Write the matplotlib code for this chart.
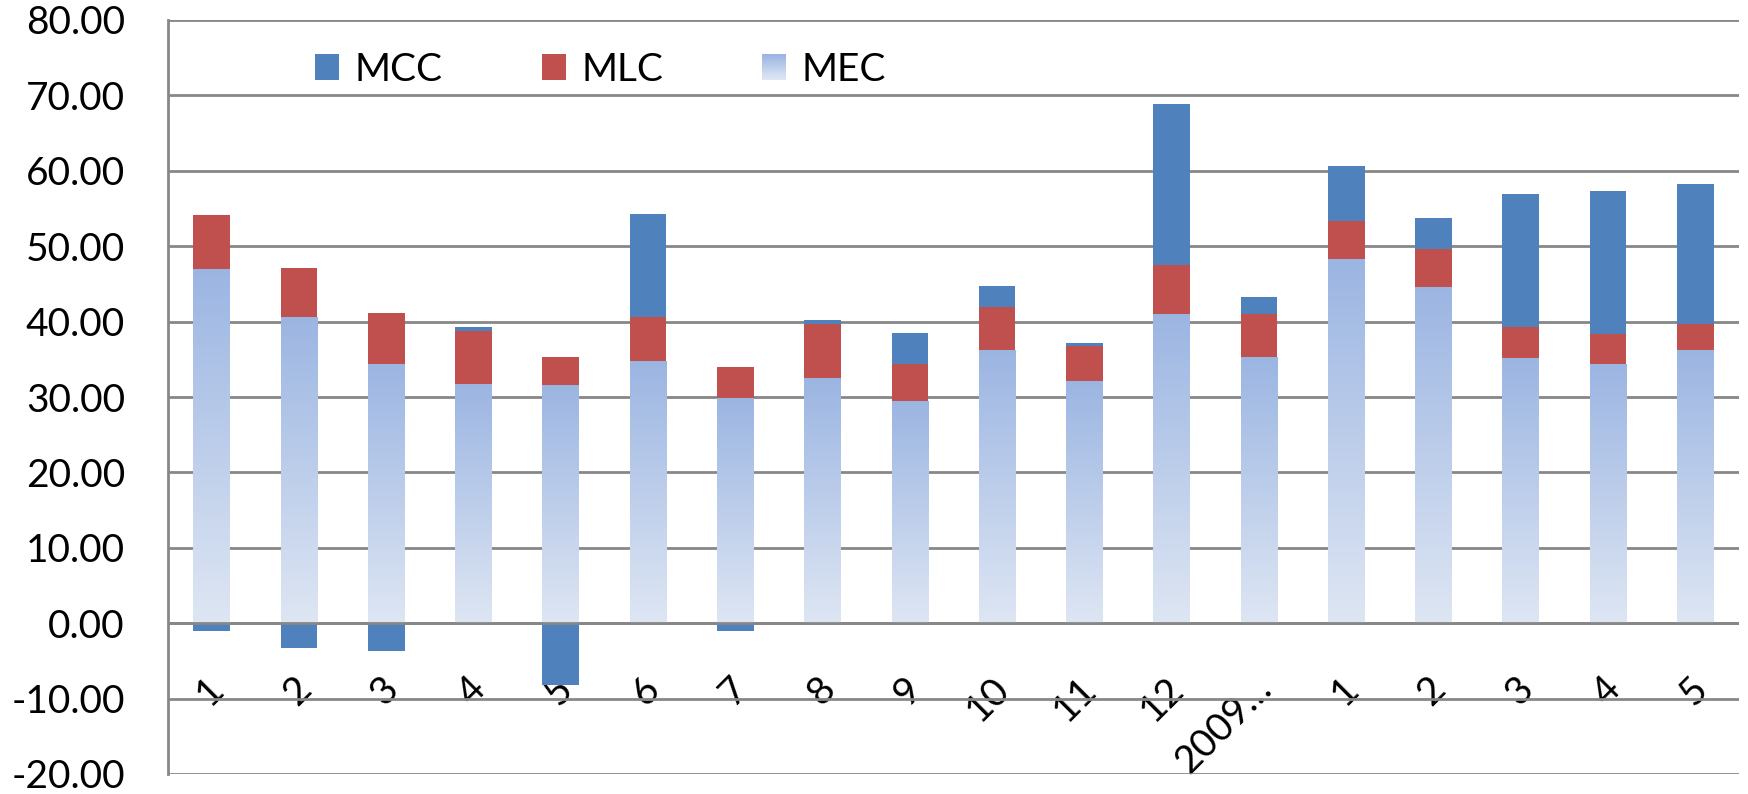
import numpy as np
import matplotlib
matplotlib.use("Agg")
import matplotlib.pyplot as plt
from matplotlib.patches import Rectangle, Patch
from matplotlib.legend_handler import HandlerBase
import matplotlib.transforms as mtransforms

# ---- data ----
categories = ['1', '2', '3', '4', '5', '6', '7', '8', '9', '10', '11', '12',
              '2009…', '1', '2', '3', '4', '5']
MEC = [47.0, 40.6, 34.4, 31.7, 31.6, 34.8, 29.9, 32.5, 29.5, 36.2, 32.1, 41.0,
       35.3, 48.3, 44.6, 35.2, 34.4, 36.2]
MLC = [7.2, 6.5, 6.8, 7.1, 3.7, 5.8, 4.1, 7.2, 4.9, 5.8, 4.6, 6.5,
       5.7, 5.0, 5.0, 4.1, 4.0, 3.5]
MCC = [-1.0, -3.3, -3.7, 0.5, -8.2, 13.7, -1.0, 0.5, 4.1, 2.7, 0.5, 21.4,
       2.3, 7.4, 4.1, 17.6, 18.9, 18.5]
yticks = [-20, -10, 0, 10, 20, 30, 40, 50, 60, 70, 80]

plt.rcParams['font.family'] = ['Lato', 'DejaVu Sans']

C_MCC = '#4F81BD'
C_MLC = '#C0504D'
MEC_TOP = np.array([155, 181, 226]) / 255.0
MEC_BOT = np.array([222, 230, 243]) / 255.0
GRID = '#878787'
FS = 28

fig = plt.figure(figsize=(17.48, 7.94), dpi=100)
ax = fig.add_axes([168 / 1748, 20 / 794, (1739 - 168) / 1748, 754 / 794])

x = np.arange(len(categories))
mec = np.array(MEC)
mlc = np.array(MLC)
mcc = np.array(MCC)
width = 0.42

# MEC bars with vertical gradient
mec_bars = ax.bar(x, mec, width, color='none', edgecolor='none', zorder=2)
grad = np.linspace(0, 1, 256)[:, None]
cmap = matplotlib.colors.LinearSegmentedColormap.from_list('mec', [MEC_BOT, MEC_TOP])
for p in mec_bars.patches:
    x0 = p.get_x()
    h = p.get_height()
    im = ax.imshow(grad, cmap=cmap, origin='lower', aspect='auto',
                   extent=(x0, x0 + p.get_width(), 0, h), zorder=2,
                   interpolation='bilinear')
    im.set_clip_path(p)

ax.bar(x, mlc, width, bottom=mec, color=C_MLC, edgecolor='none', zorder=2)
mcc_bottom = np.where(mcc >= 0, mec + mlc, 0)
ax.bar(x, mcc, width, bottom=mcc_bottom, color=C_MCC, edgecolor='none', zorder=2)

ax.set_xlim(-0.5, len(categories) - 0.5)
ax.set_ylim(-20, 80)
ax.set_yticks(yticks)
ax.set_yticklabels([f'{v:.2f}' for v in yticks])
ax.yaxis.grid(True, color=GRID, linewidth=2.0, zorder=0)
ax.set_axisbelow(True)
ax.axhline(0, color=GRID, linewidth=2.0, zorder=3)

for s in ['top', 'right']:
    ax.spines[s].set_visible(False)
ax.spines['left'].set_color(GRID)
ax.spines['left'].set_linewidth(2.0)
ax.spines['bottom'].set_position(('data', 0))
ax.spines['bottom'].set_visible(False)

ax.tick_params(axis='y', length=0, pad=31, labelsize=FS, colors='black')
ax.set_xticks(x)
ax.set_xticklabels(categories, rotation=45, ha='right', va='top',
                   rotation_mode='default')
ax.tick_params(axis='x', length=0, pad=34, labelsize=FS, colors='black')
off = mtransforms.ScaledTranslation(19 / 100, 0, fig.dpi_scale_trans)
for lab in ax.get_xticklabels():
    lab.set_transform(lab.get_transform() + off)


class GradHandler(HandlerBase):
    def create_artists(self, legend, orig_handle, xdescent, ydescent,
                       width, height, fontsize, trans):
        n = 24
        arts = []
        for i in range(n):
            f = i / (n - 1)
            c = MEC_BOT * (1 - f) + MEC_TOP * f
            r = Rectangle((-xdescent, -ydescent + height * i / n), width,
                          height / n * 1.05, facecolor=c, edgecolor='none',
                          transform=trans)
            arts.append(r)
        return arts


h_mcc = Patch(facecolor=C_MCC, edgecolor='none')
h_mlc = Patch(facecolor=C_MLC, edgecolor='none')
h_mec = Patch(facecolor=MEC_TOP, edgecolor='none')
leg = ax.legend([h_mcc, h_mlc, h_mec], ['MCC', 'MLC', 'MEC'], ncol=3,
                loc='center left', bbox_to_anchor=(0.081, 0.934),
                frameon=False, fontsize=FS, handlelength=0.62, handleheight=0.62,
                handletextpad=0.4, columnspacing=2.55, borderpad=0,
                handler_map={h_mec: GradHandler()})

fig.savefig('out.png', dpi=100)
